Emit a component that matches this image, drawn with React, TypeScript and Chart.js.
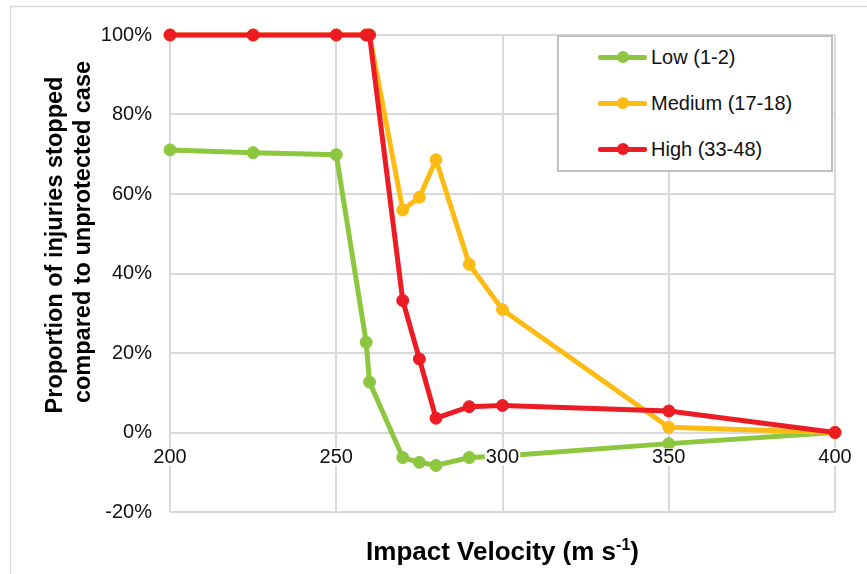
import React, { useEffect, useRef } from "react";
import { Chart, registerables } from "chart.js";

Chart.register(...registerables);

// ---------- data ----------
const velocities = [200, 225, 250, 259, 260, 270, 275, 280, 290, 300, 350, 400];
const lowValues = [71.1, 70.4, 69.9, 22.7, 12.7, -6.3, -7.5, -8.3, -6.3, -5.9, -2.8, 0];
const mediumValues = [100, 100, 100, 100, 100, 56.0, 59.2, 68.6, 42.3, 30.9, 1.3, 0];
const highValues = [100, 100, 100, 100, 100, 33.2, 18.5, 3.6, 6.5, 6.8, 5.4, 0];

const seriesLabels = ["Low (1-2)", "Medium (17-18)", "High (33-48)"];
const seriesColors = ["#8dc63f", "#fdbb13", "#ed1c24"];

const xTicks = [200, 250, 300, 350, 400];
const yTicks = [-20, 0, 20, 40, 60, 80, 100];

const yTitleLines = ["Proportion of injuries stopped", "compared to unprotected case"];
const xTitleMain = "Impact Velocity (m s";
const xTitleSup = "-1";
const xTitleEnd = ")";

const FONT = '"Liberation Sans", Arial, Helvetica, sans-serif';
const GRID = "#d9d9d9";

const toPoints = (vals: number[]) => velocities.map((v, i) => ({ x: v, y: vals[i] }));

const decorPlugin = {
  id: "decor",
  beforeDraw(chart: any) {
    const ctx = chart.ctx;
    ctx.save();
    ctx.strokeStyle = GRID;
    ctx.lineWidth = 1.5;
    ctx.beginPath();
    ctx.moveTo(10.5, 574);
    ctx.lineTo(10.5, 6.5);
    ctx.lineTo(867, 6.5);
    ctx.stroke();
    ctx.restore();
  },
  afterDatasetsDraw(chart: any) {
    const ctx = chart.ctx;
    const xs = chart.scales.x;
    const ys = chart.scales.y;
    const y0 = ys.getPixelForValue(0);
    ctx.save();
    // x tick labels on the zero line
    ctx.font = `20px ${FONT}`;
    ctx.textAlign = "center";
    ctx.textBaseline = "middle";
    for (const v of xTicks) {
      const px = xs.getPixelForValue(v);
      const t = String(v);
      const w = ctx.measureText(t).width;
      ctx.fillStyle = "#ffffff";
      ctx.fillRect(px - w / 2 - 1, y0 + 16, w + 2, 17);
      ctx.fillStyle = "#111111";
      ctx.fillText(t, px, y0 + 24.5);
    }
    // y axis title
    ctx.font = `bold 23.5px ${FONT}`;
    ctx.fillStyle = "#000000";
    ctx.textAlign = "center";
    ctx.textBaseline = "alphabetic";
    const baseX = [62, 90];
    const centerY = [245, 232];
    yTitleLines.forEach((line, i) => {
      ctx.save();
      ctx.translate(baseX[i], centerY[i]);
      ctx.rotate(-Math.PI / 2);
      ctx.fillText(line, 0, 0);
      ctx.restore();
    });
    // x axis title with superscript
    const mainFont = `bold 26px ${FONT}`;
    const supFont = `bold 16px ${FONT}`;
    ctx.font = mainFont;
    const w1 = ctx.measureText(xTitleMain).width;
    const w3 = ctx.measureText(xTitleEnd).width;
    ctx.font = supFont;
    const w2 = ctx.measureText(xTitleSup).width;
    const total = w1 + w2 + w3;
    const cx = (chart.chartArea.left + chart.chartArea.right) / 2;
    let x = cx - total / 2;
    const by = 560;
    ctx.textAlign = "left";
    ctx.font = mainFont;
    ctx.fillText(xTitleMain, x, by);
    x += w1;
    ctx.font = supFont;
    ctx.fillText(xTitleSup, x, by - 10);
    x += w2;
    ctx.font = mainFont;
    ctx.fillText(xTitleEnd, x, by);
    ctx.restore();
  },
};

export default function App() {
  const canvasRef = useRef<HTMLCanvasElement | null>(null);

  useEffect(() => {
    const canvas = canvasRef.current;
    if (!canvas) return;
    const seriesValues = [lowValues, mediumValues, highValues];
    const orders = [2, 1, 0];
    const chart = new Chart(canvas, {
      type: "line",
      data: {
        datasets: seriesLabels.map((label, i) => ({
          label,
          data: toPoints(seriesValues[i]),
          borderColor: seriesColors[i],
          backgroundColor: seriesColors[i],
          pointBackgroundColor: seriesColors[i],
          pointBorderColor: seriesColors[i],
          pointBorderWidth: 1,
          borderWidth: 5,
          pointRadius: 6,
          pointHoverRadius: 6,
          tension: 0,
          fill: false,
          clip: false,
          order: orders[i],
        })),
      },
      options: {
        animation: false,
        responsive: false,
        maintainAspectRatio: false,
        events: [],
        layout: { padding: { left: 0, top: 35, right: 32, bottom: 62 } },
        plugins: {
          legend: { display: false },
          tooltip: { enabled: false },
        },
        scales: {
          x: {
            type: "linear",
            min: 200,
            max: 400,
            afterBuildTicks: (s: any) => {
              s.ticks = xTicks.map((v) => ({ value: v }));
            },
            ticks: { display: false },
            grid: { color: GRID, lineWidth: 2, drawTicks: false },
            border: { display: false },
            afterFit: (s: any) => {
              s.height = 0;
            },
          },
          y: {
            type: "linear",
            min: -20,
            max: 100,
            afterBuildTicks: (s: any) => {
              s.ticks = yTicks.map((v) => ({ value: v }));
            },
            ticks: {
              padding: 18,
              color: "#111111",
              font: { family: FONT, size: 20 },
              callback: (v: any) => `${v}%`,
            },
            grid: { color: GRID, lineWidth: 2, drawTicks: false },
            border: { display: false },
            afterFit: (s: any) => {
              s.width = 170;
            },
          },
        },
      },
      plugins: [decorPlugin],
    } as any);
    return () => chart.destroy();
  }, []);

  return (
    <div style={{ position: "absolute", left: 0, top: 0, width: 867, height: 574, background: "#fff" }}>
      <canvas ref={canvasRef} width={867} height={574} style={{ display: "block", width: 867, height: 574 }} />
      <div
        style={{
          position: "absolute",
          left: 557,
          top: 35,
          width: 276,
          height: 137,
          boxSizing: "border-box",
          border: "2px solid #bfbfbf",
          background: "#fff",
          fontFamily: FONT,
          fontSize: 20,
          color: "#111",
        }}
      >
        {seriesLabels.map((label, i) => (
          <div
            key={label}
            style={{ position: "absolute", left: 39, top: 20 + i * 46 - 12, height: 24, display: "flex", alignItems: "center" }}
          >
            <span style={{ position: "relative", display: "inline-block", width: 49, height: 24, marginRight: 4 }}>
              <span
                style={{
                  position: "absolute",
                  left: 0,
                  top: 9.5,
                  width: 49,
                  height: 5,
                  borderRadius: 2,
                  background: seriesColors[i],
                }}
              />
              <span
                style={{
                  position: "absolute",
                  left: 18.5,
                  top: 6,
                  width: 12,
                  height: 12,
                  borderRadius: "50%",
                  background: seriesColors[i],
                }}
              />
            </span>
            <span style={{ whiteSpace: "nowrap" }}>{label}</span>
          </div>
        ))}
      </div>
    </div>
  );
}
